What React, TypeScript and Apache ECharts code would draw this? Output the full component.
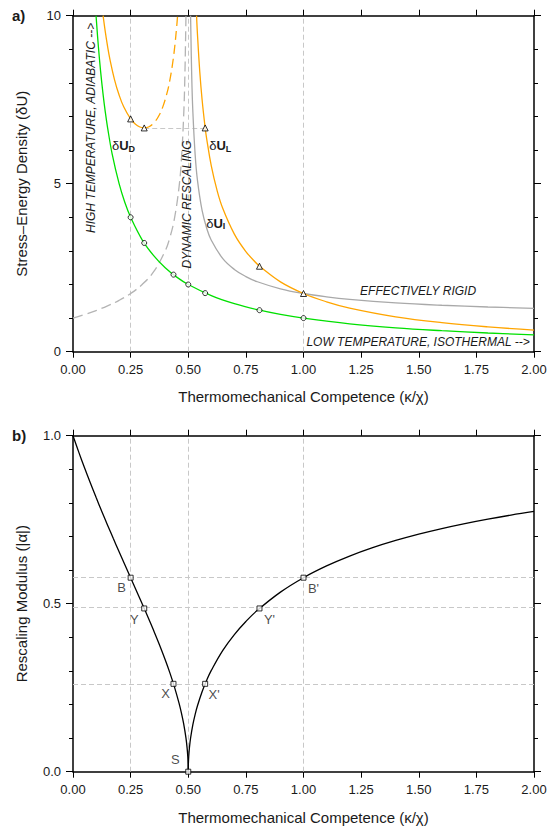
import React, { useEffect, useRef } from 'react';
import * as echarts from 'echarts';

// ---------- DATA ----------
// Panel a: stress-energy density vs thermomechanical competence
const deltaUD: number[][] = [
  [0.1, 10], [0.11, 9.09], [0.12, 8.33], [0.13, 7.69], [0.14, 7.14], [0.15, 6.67],
  [0.17, 5.88], [0.2, 5.0], [0.225, 4.44], [0.25, 4.0], [0.3, 3.33], [0.35, 2.86],
  [0.4, 2.5], [0.45, 2.22], [0.5, 2.0], [0.6, 1.67], [0.7, 1.43], [0.8, 1.25],
  [0.9, 1.11], [1.0, 1.0], [1.2, 0.83], [1.4, 0.71], [1.6, 0.625], [1.8, 0.556], [2.0, 0.5],
];
const deltaUIDashed: number[][] = [
  [0, 1.0], [0.05, 1.106], [0.1, 1.225], [0.15, 1.363], [0.2, 1.528], [0.25, 1.732],
  [0.3, 2.0], [0.35, 2.38], [0.4, 3.0], [0.42, 3.391], [0.44, 3.958], [0.46, 4.899],
  [0.47, 5.686], [0.48, 7.0], [0.485, 8.103], [0.4901, 10],
];
const deltaUI: number[][] = [
  [0.5101, 10], [0.515, 8.226], [0.52, 7.141], [0.53, 5.859], [0.54, 5.099], [0.56, 4.203],
  [0.58, 3.674], [0.6, 3.317], [0.65, 2.769], [0.7, 2.449], [0.75, 2.236], [0.8, 2.082],
  [0.9, 1.871], [1.0, 1.732], [1.1, 1.633], [1.2, 1.558], [1.4, 1.453], [1.6, 1.382],
  [1.8, 1.33], [2.0, 1.291],
];
const deltaULLeft: number[][] = [
  [0.1305, 10], [0.14, 9.524], [0.15, 9.085], [0.16, 8.708], [0.18, 8.099], [0.2, 7.638],
  [0.22, 7.289], [0.25, 6.928], [0.27, 6.777], [0.29, 6.688], [0.309, 6.66],
];
const deltaULLeftDashed: number[][] = [
  [0.309, 6.66], [0.33, 6.696], [0.35, 6.801], [0.37, 6.992], [0.39, 7.294], [0.41, 7.756],
  [0.42, 8.074], [0.43, 8.478], [0.44, 8.996], [0.45, 9.686], [0.4537, 10],
];
const deltaULRight: number[][] = [
  [0.5361, 10], [0.54, 9.443], [0.55, 8.332], [0.56, 7.506], [0.5734, 6.66], [0.58, 6.335],
  [0.6, 5.528], [0.625, 4.8], [0.65, 4.26], [0.7, 3.499], [0.75, 2.981], [0.8, 2.602],
  [0.809, 2.544], [0.9, 2.079], [1.0, 1.732], [1.1, 1.485], [1.2, 1.298], [1.4, 1.038],
  [1.6, 0.864], [1.8, 0.739], [2.0, 0.645],
];
const deltaUDMarks: number[][] = [
  [0.25, 4.0], [0.309, 3.236], [0.436, 2.294], [0.5, 2.0], [0.5734, 1.744], [0.809, 1.236], [1.0, 1.0],
];
const deltaULMarks: number[][] = [
  [0.25, 6.928], [0.309, 6.66], [0.5734, 6.66], [0.809, 2.544], [1.0, 1.732],
];
const guideXTop: number[] = [0.25, 0.5, 1.0];
const guideSegTop: number[][] = [[0.309, 6.66], [0.5734, 6.66]];

// Panel b: rescaling modulus
const alphaLeft: number[][] = [
  [0, 1.0], [0.025, 0.9512], [0.05, 0.9045], [0.075, 0.8597], [0.1, 0.8165], [0.125, 0.7746],
  [0.15, 0.7338], [0.175, 0.6939], [0.2, 0.6547], [0.225, 0.6159], [0.25, 0.5774],
  [0.275, 0.5388], [0.3, 0.5], [0.325, 0.4606], [0.35, 0.4201], [0.375, 0.378], [0.4, 0.3333],
  [0.42, 0.2949], [0.44, 0.2526], [0.46, 0.2041], [0.47, 0.1759], [0.48, 0.1429],
  [0.49, 0.1005], [0.495, 0.0709], [0.498, 0.0448], [0.4995, 0.0224], [0.5, 0],
];
const alphaRight: number[][] = [
  [0.5, 0], [0.5005, 0.0224], [0.502, 0.0447], [0.505, 0.0705], [0.51, 0.0995], [0.52, 0.14],
  [0.53, 0.1707], [0.54, 0.1961], [0.56, 0.2379], [0.58, 0.2722], [0.6, 0.3015], [0.65, 0.3612],
  [0.7, 0.4082], [0.75, 0.4472], [0.8, 0.4804], [0.9, 0.5345], [1.0, 0.5774], [1.1, 0.6124],
  [1.2, 0.6417], [1.3, 0.6667], [1.4, 0.6882], [1.5, 0.7071], [1.6, 0.7237], [1.7, 0.7385],
  [1.8, 0.7518], [1.9, 0.7638], [2.0, 0.7746],
];
const alphaPointNames: string[] = ['B', 'Y', 'X', 'S', "X'", "Y'", "B'"];
const alphaPointX: number[] = [0.25, 0.309, 0.436, 0.5, 0.5734, 0.809, 1.0];
const alphaPointY: number[] = [0.5774, 0.4859, 0.2615, 0, 0.2615, 0.4859, 0.5774];
const guideXBottom: number[] = [0.25, 0.5, 1.0];
const guideYBottom: number[] = [0.5774, 0.4859, 0.2615];

// ---------- STYLE ----------
const FONT = 'Arial, "Liberation Sans", Helvetica, sans-serif';
const TXT = '#1a1a1a';
const GREEN = '#00e000';
const ORANGE = '#ffa500';
const GRAY = '#a9a9a9';
const GUIDE = '#c8c8c8';
const labelOffsets: number[][] = [[-9, 10], [-10, 11], [-8, 10], [-13, -12], [9, 11], [10, 11], [10, 11]];

const GRID_LEFT = 73;
const GRID_W = 461;
const GRID_H = 336;
const TOP_A = 15.7;
const TOP_B = 435.7;

function xAxis(gridIndex: number, position: string, showLabel: boolean) {
  return {
    type: 'value', gridIndex, position, min: 0, max: 2, interval: 0.25,
    axisLine: { show: true, onZero: false, lineStyle: { color: '#000', width: 1.5 } },
    axisTick: { show: true, inside: false, length: 6, lineStyle: { color: '#000', width: 1 } },
    axisLabel: {
      show: showLabel, margin: 11, color: TXT, fontSize: 13, fontFamily: FONT,
      showMinLabel: true, showMaxLabel: true, hideOverlap: false,
      formatter: (v: number) => v.toFixed(2),
    },
    splitLine: { show: false }, minorTick: { show: false }, minorSplitLine: { show: false },
  };
}
function yAxis(gridIndex: number, position: string, max: number, interval: number, showLabel: boolean, dec: number) {
  return {
    type: 'value', gridIndex, position, min: 0, max, interval,
    axisLine: { show: true, onZero: false, lineStyle: { color: '#000', width: 1.5 } },
    axisTick: { show: true, inside: false, length: 7, lineStyle: { color: '#000', width: 1 } },
    minorTick: { show: true, splitNumber: 5, length: 4, lineStyle: { color: '#000', width: 1 } },
    axisLabel: {
      show: showLabel, margin: 12, color: TXT, fontSize: 13, fontFamily: FONT,
      showMinLabel: true, showMaxLabel: true, hideOverlap: false,
      formatter: (v: number) => v.toFixed(dec),
    },
    splitLine: { show: false }, minorSplitLine: { show: false },
  };
}
function curve(data: number[][], color: string, xi: number, dashed?: number[] | null, z = 3) {
  return {
    type: 'line', xAxisIndex: xi, yAxisIndex: xi, data, showSymbol: false, symbol: 'none',
    smooth: 0.4, clip: true, silent: true, z,
    lineStyle: { color, width: 1.3, type: dashed || 'solid' },
  };
}
const guideLine = { color: GUIDE, width: 1, type: [5, 3] };

export default function App() {
  const ref = useRef<HTMLDivElement>(null);
  useEffect(() => {
    if (!ref.current) return;
    const chart = echarts.init(ref.current, undefined, { renderer: 'svg' });
    const option: any = {
      animation: false,
      backgroundColor: '#fff',
      textStyle: { fontFamily: FONT },
      grid: [
        { left: GRID_LEFT, top: TOP_A, width: GRID_W, height: GRID_H, outerBoundsMode: 'none', containLabel: false },
        { left: GRID_LEFT, top: TOP_B, width: GRID_W, height: GRID_H, outerBoundsMode: 'none', containLabel: false },
      ],
      xAxis: [xAxis(0, 'bottom', true), xAxis(0, 'top', false), xAxis(1, 'bottom', true), xAxis(1, 'top', false)],
      yAxis: [
        yAxis(0, 'left', 10, 5, true, 0), yAxis(0, 'right', 10, 5, false, 0),
        yAxis(1, 'left', 1, 0.5, true, 1), yAxis(1, 'right', 1, 0.5, false, 1),
      ],
      series: [
        {
          type: 'line', xAxisIndex: 0, yAxisIndex: 0, data: [], silent: true, z: 1,
          markLine: {
            silent: true, z: 1, symbol: ['none', 'none'], label: { show: false }, lineStyle: guideLine,
            emphasis: { disabled: true },
            data: [
              ...guideXTop.map((x) => ({ xAxis: x })),
              [{ coord: guideSegTop[0] }, { coord: guideSegTop[1] }],
            ],
          },
        },
        {
          type: 'line', xAxisIndex: 2, yAxisIndex: 2, data: [], silent: true, z: 1,
          markLine: {
            silent: true, z: 1, symbol: ['none', 'none'], label: { show: false }, lineStyle: guideLine,
            emphasis: { disabled: true },
            data: [...guideXBottom.map((x) => ({ xAxis: x })), ...guideYBottom.map((y) => ({ yAxis: y }))],
          },
        },
        curve(deltaUIDashed, '#b4b4b4', 0, [10, 5]),
        curve(deltaUI, GRAY, 0),
        curve(deltaUD, GREEN, 0),
        curve(deltaULLeft, ORANGE, 0),
        curve(deltaULLeftDashed, ORANGE, 0, [9, 5]),
        curve(deltaULRight, ORANGE, 0),
        {
          type: 'scatter', xAxisIndex: 0, yAxisIndex: 0, data: deltaUDMarks, symbol: 'circle', symbolSize: 5, z: 5, silent: true,
          itemStyle: { color: '#fff', borderColor: '#000', borderWidth: 1 },
        },
        {
          type: 'scatter', xAxisIndex: 0, yAxisIndex: 0, data: deltaULMarks, symbol: 'triangle', symbolSize: 6, z: 5, silent: true,
          itemStyle: { color: '#fff', borderColor: '#000', borderWidth: 1 },
        },
        curve(alphaLeft, '#000', 2, null),
        curve(alphaRight, '#000', 2, null),
        {
          type: 'scatter', xAxisIndex: 2, yAxisIndex: 2, symbol: 'rect', symbolSize: 5, z: 5, silent: true,
          itemStyle: { color: '#fff', borderColor: '#000', borderWidth: 1 },
          label: { show: true, position: 'inside', color: TXT, fontSize: 13, fontFamily: FONT, formatter: (p: any) => p.name },
          data: alphaPointX.map((x, i) => ({
            name: alphaPointNames[i], value: [x, alphaPointY[i]],
            label: { offset: labelOffsets[i] },
          })),
        },
      ],
    };
    chart.setOption(option);

    const pa = (x: number, y: number) => chart.convertToPixel({ xAxisIndex: 0, yAxisIndex: 0 } as any, [x, y]) as number[];
    const t = (x: number, y: number, text: string, s: any, rotation = 0) => ({
      type: 'text', x, y, rotation, silent: true, z: 10,
      style: { text, fill: TXT, fontFamily: FONT, align: 'center', verticalAlign: 'middle', ...s },
    });
    const deltaLabel = (x: number, y: number, sub: string) => {
      const [px, py] = pa(x, y);
      return [
        { type: 'text', x: px, y: py, silent: true, z: 10, style: { text: 'δ', fill: TXT, fontFamily: FONT, fontSize: 13, align: 'left', verticalAlign: 'middle' } },
        { type: 'text', x: px + 7.2, y: py, silent: true, z: 10, style: { text: 'U', fill: TXT, fontFamily: FONT, fontSize: 13, fontWeight: 'bold', align: 'left', verticalAlign: 'middle' } },
        { type: 'text', x: px + 16.6, y: py + 3, silent: true, z: 10, style: { text: sub, fill: TXT, fontFamily: FONT, fontSize: 9, fontWeight: 'bold', align: 'left', verticalAlign: 'middle' } },
      ];
    };
    const it = { fontSize: 12, fontStyle: 'italic' };
    const high = pa(0.079, 6.66);
    const dyn = pa(0.4935, 4.38);
    const rigid = pa(1.497, 1.81);
    const low = pa(1.497, 0.3);
    const midX = GRID_LEFT + GRID_W / 2;
    chart.setOption({
      graphic: [
        t(12, TOP_A, 'a)', { fontSize: 15, fontWeight: 'bold', align: 'left' }),
        t(12, TOP_B, 'b)', { fontSize: 15, fontWeight: 'bold', align: 'left' }),
        t(21, TOP_A + GRID_H / 2, 'Stress–Energy Density (δU)', { fontSize: 15 }, Math.PI / 2),
        t(21, TOP_B + GRID_H / 2, 'Rescaling Modulus (|α|)', { fontSize: 15 }, Math.PI / 2),
        t(midX, 396, 'Thermomechanical Competence (κ/χ)', { fontSize: 15 }),
        t(midX, 817, 'Thermomechanical Competence (κ/χ)', { fontSize: 15 }),
        t(high[0], high[1], 'HIGH TEMPERATURE, ADIABATIC -->', it, Math.PI / 2),
        t(dyn[0], dyn[1], 'DYNAMIC RESCALING', it, Math.PI / 2),
        t(rigid[0], rigid[1], 'EFFECTIVELY RIGID', it),
        t(low[0], low[1], 'LOW TEMPERATURE, ISOTHERMAL -->', it),
        ...deltaLabel(0.169, 6.13, 'D'),
        ...deltaLabel(0.591, 6.13, 'L'),
        ...deltaLabel(0.578, 3.83, 'I'),
      ],
    });
    return () => chart.dispose();
  }, []);
  return <div ref={ref} style={{ position: 'fixed', left: 0, top: 0, width: 560, height: 829, background: '#fff' }} />;
}
